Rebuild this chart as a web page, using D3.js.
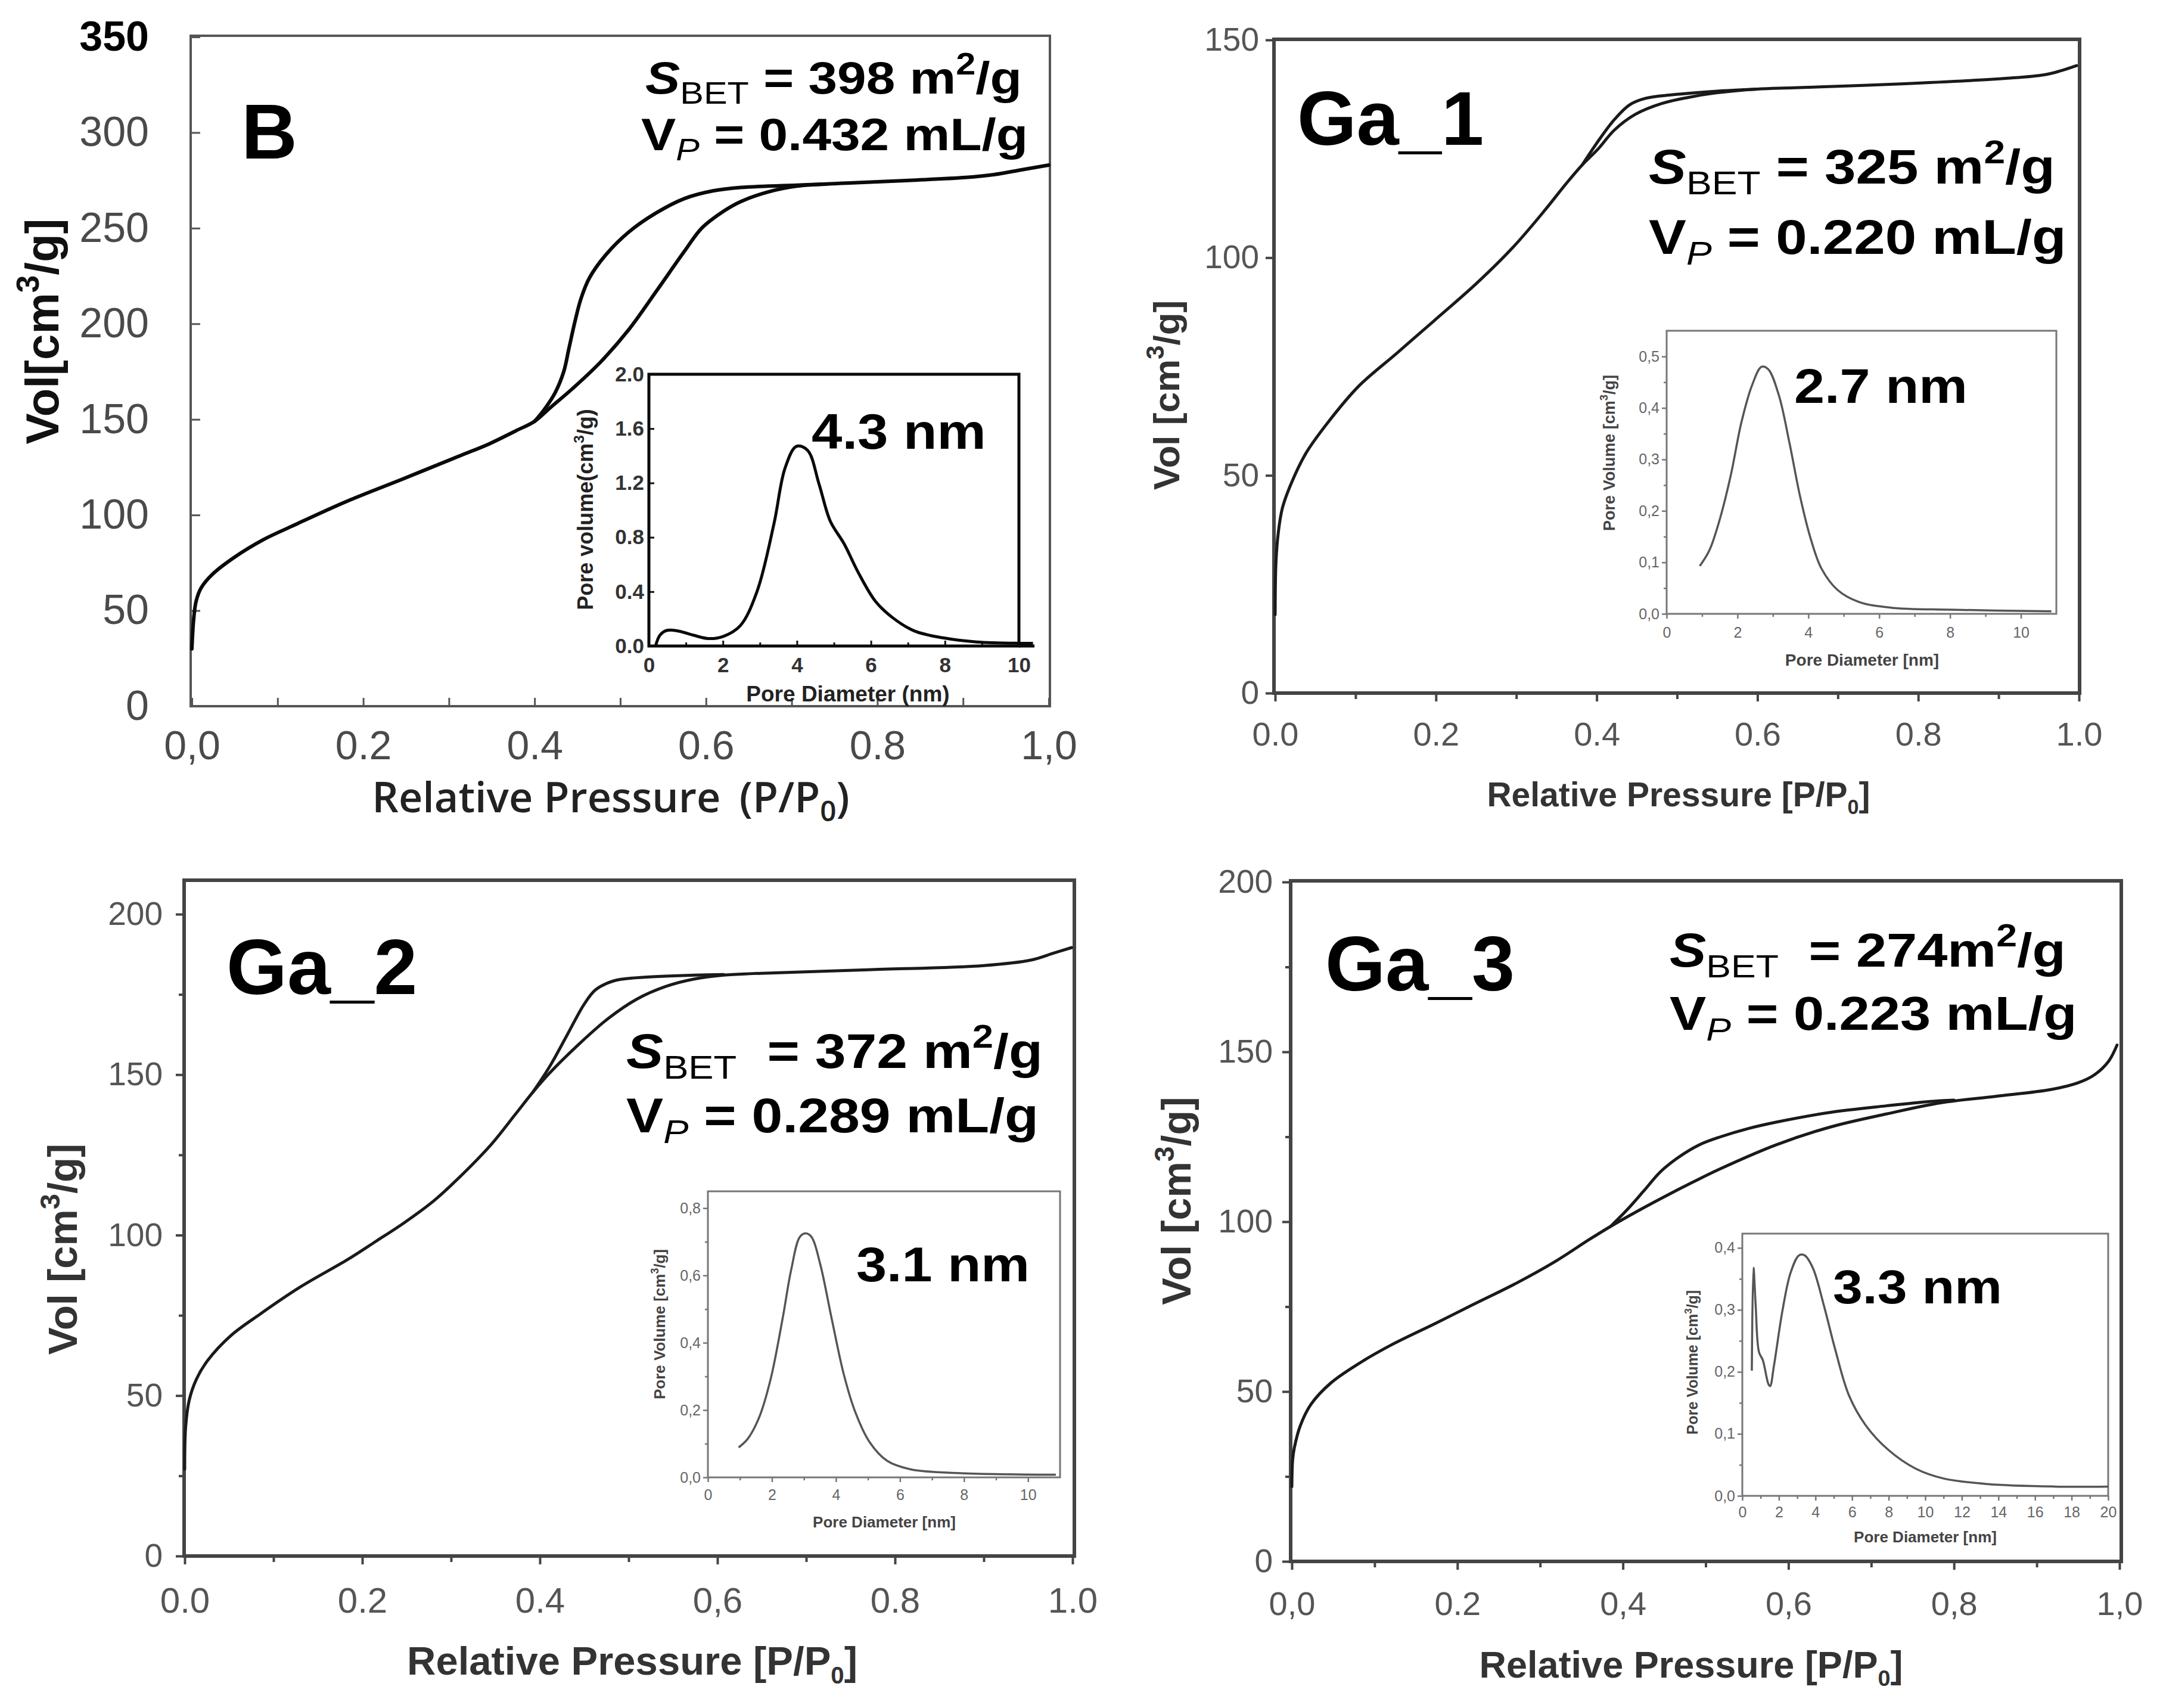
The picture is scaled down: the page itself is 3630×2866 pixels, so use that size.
<!DOCTYPE html>
<html><head><meta charset="utf-8">
<script src="https://cdn.jsdelivr.net/npm/d3@7"></script>
<style>html,body{margin:0;padding:0;background:#fff;}svg{display:block;}</style>
</head><body>
<svg id="chart" width="3630" height="2866"></svg>
<script>
// ================= DATA =================
// Panel B isotherm  [P/P0, Vol cm3/g]
const bShared = [[0,30],[0.002,45],[0.005,55],[0.011,62],[0.024,69],[0.05,78],[0.083,87],[0.116,94],[0.18,107],[0.247,119],[0.313,131],[0.346,137],[0.378,144],[0.40,149]];
const bAds = [[0.418,156],[0.444,166],[0.477,180],[0.51,197],[0.542,217],[0.575,238],[0.595,250],[0.621,259],[0.641,264],[0.673,269],[0.706,272],[0.772,273.7],[0.837,275],[0.903,276.5],[0.936,278],[0.968,280.5],[1.0,283]];
const bDes = [[0.40,149],[0.411,155],[0.424,164],[0.434,175],[0.44,187],[0.447,201],[0.454,213],[0.464,224],[0.483,236],[0.51,248],[0.542,258],[0.575,265.5],[0.608,269.5],[0.641,271.3],[0.706,272.5],[0.74,273]];
const bPsd = [[0.18,0],[0.3,0.08],[0.49,0.115],[0.8,0.11],[1.2,0.08],[1.6,0.055],[2.0,0.07],[2.47,0.15],[2.92,0.40],[3.38,0.90],[3.68,1.31],[3.99,1.47],[4.29,1.44],[4.6,1.19],[4.9,0.92],[5.28,0.75],[5.66,0.54],[6.12,0.33],[6.58,0.21],[7.18,0.11],[7.95,0.06],[8.86,0.03],[10,0.02],[10.38,0.02]];

// Ga_1
const g1Shared = [[0,18],[0.001,30],[0.004,37],[0.009,42.5],[0.0185,47.5],[0.038,55],[0.065,62],[0.104,70.5],[0.151,78],[0.197,85.4],[0.25,94],[0.296,102.4],[0.336,111],[0.362,117],[0.382,121.3]];
const g1Ads = [[0.402,125],[0.422,129.3],[0.448,132.9],[0.481,135.4],[0.514,136.8],[0.547,137.8],[0.6,138.7],[0.646,139],[0.779,139.9],[0.911,141.2],[0.957,142],[0.977,142.9],[0.997,144.1]];
const g1Des = [[0.382,121.3],[0.402,126.8],[0.422,131.7],[0.441,135.1],[0.461,136.6],[0.494,137.4],[0.547,138.2],[0.6,138.7]];
const g1Psd = [[0.935,0.093],[1.21,0.124],[1.51,0.186],[1.81,0.269],[2.11,0.372],[2.41,0.444],[2.68,0.48],[2.87,0.475],[3.17,0.424],[3.47,0.331],[3.77,0.227],[4.07,0.145],[4.37,0.088],[4.83,0.046],[5.43,0.023],[6.33,0.012],[8,0.008],[10.86,0.005]];

// Ga_2
const g2Shared = [[0,27],[0.001,40],[0.005,48.5],[0.013,55],[0.026,61],[0.052,68.7],[0.085,75.4],[0.13,83.8],[0.183,92.3],[0.215,98],[0.248,104],[0.281,110.8],[0.313,119],[0.346,128.5],[0.372,137.5],[0.392,144.5]];
const g2Ads = [[0.411,150.5],[0.444,159.5],[0.477,167.5],[0.509,173.5],[0.542,177.5],[0.574,179.8],[0.607,181],[0.64,181.5],[0.77,182.7],[0.9,184],[0.953,185.7],[0.979,187.9],[0.999,189.6]];
const g2Des = [[0.392,144.5],[0.411,152.5],[0.431,162.5],[0.45,172],[0.463,176.5],[0.483,179.2],[0.509,180.2],[0.574,181],[0.607,181.2]];
const g2Psd = [[0.96,0.089],[1.24,0.114],[1.6,0.178],[1.96,0.292],[2.33,0.47],[2.6,0.616],[2.87,0.714],[3.05,0.725],[3.24,0.714],[3.51,0.633],[3.87,0.47],[4.24,0.308],[4.6,0.195],[5.05,0.105],[5.6,0.049],[6.33,0.024],[7.78,0.013],[10.87,0.008]];

// Ga_3
const g3Shared = [[0,22],[0.001,30],[0.003,33.4],[0.01,39.8],[0.023,46.2],[0.047,52.5],[0.08,58.1],[0.12,63.7],[0.173,70],[0.219,75.6],[0.272,82],[0.319,88.4],[0.359,94.7],[0.385,98.6]];
const g3Ads = [[0.419,103.3],[0.452,107.6],[0.485,111.7],[0.518,115.6],[0.585,122.6],[0.651,127.9],[0.718,131.7],[0.784,135],[0.85,136.9],[0.917,138.9],[0.95,140.9],[0.97,143.3],[0.987,147.3],[0.997,152]];
const g3Des = [[0.385,98.6],[0.405,103.5],[0.425,109],[0.445,114.6],[0.465,118.6],[0.492,122.6],[0.518,125],[0.551,127.4],[0.585,129.3],[0.651,132.2],[0.718,134.1],[0.771,135.4],[0.8,135.8]];
const g3Psd = [[0.52,0.202],[0.61,0.368],[0.73,0.307],[0.91,0.232],[1.12,0.219],[1.43,0.18],[1.52,0.177],[1.73,0.21],[2.19,0.298],[2.64,0.36],[3.1,0.388],[3.4,0.388],[3.85,0.368],[4.46,0.307],[5.07,0.237],[5.83,0.162],[6.74,0.114],[7.95,0.075],[9.47,0.044],[11,0.028],[13.4,0.019],[17.05,0.015],[20,0.015]];

// Tick values / labels
const isoXVals = [0,0.2,0.4,0.6,0.8,1.0];
const isoXMinor = [0.1,0.3,0.5,0.7,0.9];
const bXLabels = ["0,0","0.2","0.4","0.6","0.8","1,0"];
const g1XLabels = ["0.0","0.2","0.4","0.6","0.8","1.0"];
const g2XLabels = ["0.0","0.2","0.4","0,6","0.8","1.0"];
const g3XLabels = ["0,0","0.2","0,4","0,6","0,8","1,0"];
const bYVals = [0,50,100,150,200,250,300,350];
const bYLabels = ["0","50","100","150","200","250","300","350"];
const g1YVals = [0,50,100,150];
const g1YLabels = ["0","50","100","150"];
const g23YVals = [0,50,100,150,200];
const g23YLabels = ["0","50","100","150","200"];
const g23YMinor = [25,75,125,175];

const bPsdXVals = [0,2,4,6,8,10];
const bPsdXLabels = ["0","2","4","6","8","10"];
const bPsdYVals = [0,0.4,0.8,1.2,1.6,2.0];
const bPsdYLabels = ["0.0","0.4","0.8","1.2","1.6","2.0"];
const psdXVals11 = [0,2,4,6,8,10];
const psdXLabels11 = ["0","2","4","6","8","10"];
const psdXMinor11 = [1,3,5,7,9];
const g1PsdYVals = [0,0.1,0.2,0.3,0.4,0.5];
const g1PsdYLabels = ["0,0","0,1","0,2","0,3","0,4","0,5"];
const g1PsdYMinor = [0.05,0.15,0.25,0.35,0.45];
const g2PsdYVals = [0,0.2,0.4,0.6,0.8];
const g2PsdYLabels = ["0,0","0,2","0,4","0,6","0,8"];
const g2PsdYMinor = [0.1,0.3,0.5,0.7];
const g3PsdXVals = [0,2,4,6,8,10,12,14,16,18,20];
const g3PsdXLabels = ["0","2","4","6","8","10","12","14","16","18","20"];
const g3PsdXMinor = [1,3,5,7,9,11,13,15,17,19];
const g3PsdYVals = [0,0.1,0.2,0.3,0.4];
const g3PsdYLabels = ["0,0","0,1","0,2","0,3","0,4"];
const g3PsdYMinor = [0.05,0.15,0.25,0.35];

// ================= DRAWING =================
const FONT = "'Liberation Sans', Arial, Helvetica, sans-serif";
const OPEN = "'Open Sans', 'Liberation Sans', sans-serif";
const svg = d3.select('#chart');
svg.append('rect').attr('width',3630).attr('height',2866).attr('fill','#fff');
const CURVE = d3.curveCatmullRom.alpha(0.5);

function rich(parent, o, segs) {
  let tr = `translate(${o.x},${o.y})`;
  if (o.rot) tr += ` rotate(${o.rot})`;
  if (o.sx) tr += ` scale(${o.sx},1)`;
  const g = parent.append('g').attr('transform', tr);
  const fs = o.fs;
  // rotated titles: x given is the visual centre of the glyphs -> shift baseline
  const t = g.append('text').attr('x',0).attr('y', o.rot ? 0.36*fs : 0)
    .attr('font-size', fs).attr('font-family', o.family || FONT)
    .attr('font-weight', o.weight || 'bold').attr('fill', o.fill || '#000')
    .attr('text-anchor', o.anchor || 'start');
  let cur = 0;
  segs.forEach(s => {
    const off = s.sub ? 0.22*fs : (s.sup ? -0.42*fs : 0);
    const ts = t.append('tspan').text(s.t);
    if (off - cur !== 0) ts.attr('dy', off - cur);
    cur = off;
    if (s.sub || s.sup) ts.attr('font-size', fs*(s.scale || 0.68));
    if (s.it) ts.attr('font-style','italic');
    if (s.w) ts.attr('font-weight', s.w);
    if (s.dx) ts.attr('dx', s.dx*fs);
  });
  return t;
}

function axisB(g, scale, pos, vals, labels, minor, st) {
  const inner = st.inward ? -st.len : st.len;
  const spacing = st.baseline - pos - 0.71*st.fs;
  const pad = spacing - Math.max(inner,0);
  const ax = d3.axisBottom(scale).tickValues(vals)
    .tickFormat(d => labels[vals.indexOf(d)]).tickSizeInner(inner).tickSizeOuter(0).tickPadding(pad);
  const ga = g.append('g').attr('transform',`translate(0,${pos})`).call(ax);
  ga.select('.domain').remove();
  ga.attr('font-size', st.fs).attr('font-family', st.family || FONT).attr('font-weight', st.weight || 'normal');
  ga.selectAll('text').attr('fill', st.color);
  ga.selectAll('line').attr('stroke', st.tickColor).attr('stroke-width', st.tickW);
  if (minor) {
    const mi = st.inward ? -st.minorLen : st.minorLen;
    const gm = g.append('g').attr('transform',`translate(0,${pos})`)
      .call(d3.axisBottom(scale).tickValues(minor).tickFormat(()=>'').tickSizeInner(mi).tickSizeOuter(0));
    gm.select('.domain').remove();
    gm.selectAll('line').attr('stroke', st.tickColor).attr('stroke-width', st.tickW);
  }
  return ga;
}
function axisL(g, scale, pos, vals, labels, minor, st) {
  const inner = st.inward ? -st.len : st.len;
  const pad = st.spacing - Math.max(inner,0);
  const ax = d3.axisLeft(scale).tickValues(vals)
    .tickFormat(d => labels[vals.indexOf(d)]).tickSizeInner(inner).tickSizeOuter(0).tickPadding(pad);
  const ga = g.append('g').attr('transform',`translate(${pos},0)`).call(ax);
  ga.select('.domain').remove();
  ga.attr('font-size', st.fs).attr('font-family', st.family || FONT).attr('font-weight', st.weight || 'normal');
  ga.selectAll('text').attr('fill', st.color);
  ga.selectAll('line').attr('stroke', st.tickColor).attr('stroke-width', st.tickW);
  if (minor) {
    const mi = st.inward ? -st.minorLen : st.minorLen;
    const gm = g.append('g').attr('transform',`translate(${pos},0)`)
      .call(d3.axisLeft(scale).tickValues(minor).tickFormat(()=>'').tickSizeInner(mi).tickSizeOuter(0));
    gm.select('.domain').remove();
    gm.selectAll('line').attr('stroke', st.tickColor).attr('stroke-width', st.tickW);
  }
  return ga;
}

function frameRect(g, F, color, w) {
  g.append('rect').attr('x',F.l).attr('y',F.t).attr('width',F.r-F.l).attr('height',F.b-F.t)
    .attr('fill','none').attr('stroke',color).attr('stroke-width',w);
}

function drawIso(P) {
  const g = svg.append('g');
  const x = d3.scaleLinear().domain([0,1]).range(P.xr);
  const y = d3.scaleLinear().domain(P.yDomain).range(P.yr);
  const F = P.frame;
  axisB(g, x, F.b, isoXVals, P.xLabels, isoXMinor, P.xAx);
  const ya = axisL(g, y, F.l, P.yVals, P.yLabels, P.yMinor, P.yAx);
  if (P.boldTop) {
    ya.selectAll('.tick').filter(d => d === P.yVals[P.yVals.length-1]).select('text')
      .attr('font-weight','bold').attr('fill','#000');
  }
  frameRect(g, F, P.frameColor, P.frameW);
  const line = d3.line().x(d=>x(d[0])).y(d=>y(d[1])).curve(CURVE);
  g.append('path').datum(P.shared.concat(P.ads)).attr('d',line)
    .attr('fill','none').attr('stroke',P.curveColor).attr('stroke-width',P.curveW).attr('stroke-linejoin','round').attr('stroke-linecap','round');
  g.append('path').datum(P.des).attr('d',line)
    .attr('fill','none').attr('stroke',P.curveColor).attr('stroke-width',P.curveW).attr('stroke-linejoin','round').attr('stroke-linecap','round');
  // inset
  const I = P.inset;
  const ix = d3.scaleLinear().domain(I.xDomain).range([I.frame.l, I.frame.r]);
  const iy = d3.scaleLinear().domain(I.yDomain).range([I.frame.b, I.frame.t]);
  g.append('rect').attr('x',I.frame.l).attr('y',I.frame.t).attr('width',I.frame.r-I.frame.l).attr('height',I.frame.b-I.frame.t).attr('fill','#fff');
  axisB(g, ix, I.frame.b, I.xVals, I.xLabels, I.xMinor, I.xAx);
  axisL(g, iy, I.frame.l, I.yVals, I.yLabels, I.yMinor, I.yAx);
  frameRect(g, I.frame, I.frameColor, I.frameW);
  if (I.extend) {
    g.append('line').attr('x1', ix(I.xDomain[1])).attr('x2', ix(I.extend)).attr('y1', I.frame.b).attr('y2', I.frame.b)
      .attr('stroke', I.frameColor).attr('stroke-width', I.frameW);
  }
  const iline = d3.line().x(d=>ix(d[0])).y(d=>iy(d[1])).curve(CURVE);
  g.append('path').datum(I.data).attr('d',iline).attr('fill','none')
    .attr('stroke',I.curveColor).attr('stroke-width',I.curveW).attr('stroke-linejoin','round');
  // texts
  P.texts.forEach(t => rich(g, t.o, t.segs));
}

const sub = (t, extra) => Object.assign({t, sub:true}, extra||{});
const sup = (t, extra) => Object.assign({t, sup:true}, extra||{});

// ---------- Panel B ----------
drawIso({
  frame:{l:320,r:1762,t:60,b:1185}, xr:[322,1760], yDomain:[0,350], yr:[1185,62],
  xLabels:bXLabels, yVals:bYVals, yLabels:bYLabels, yMinor:null, boldTop:true,
  xAx:{inward:true,len:14,minorLen:14,fs:68,color:'#4a4a4a',baseline:1274,tickColor:'#555',tickW:3},
  yAx:{inward:true,len:16,minorLen:10,fs:70,color:'#4a4a4a',spacing:70,tickColor:'#555',tickW:3},
  frameColor:'#555', frameW:4, curveColor:'#0a0a0a', curveW:6,
  shared:bShared, ads:bAds, des:bDes,
  inset:{frame:{l:1089,r:1710,t:628,b:1084}, xDomain:[0,10], yDomain:[0,2], extend:10.42,
    xVals:bPsdXVals, xLabels:bPsdXLabels, xMinor:[1,3,5,7,9], yVals:bPsdYVals, yLabels:bPsdYLabels, yMinor:null,
    xAx:{inward:true,len:9,minorLen:6,fs:35,color:'#333',baseline:1128,tickColor:'#111',tickW:3,weight:'bold'},
    yAx:{inward:true,len:9,minorLen:6,fs:35,color:'#333',spacing:8,tickColor:'#111',tickW:3,weight:'bold'},
    frameColor:'#0a0a0a', frameW:5, curveColor:'#0a0a0a', curveW:5, data:bPsd},
  texts:[
    {o:{x:405,y:266,fs:130},segs:[{t:'B'}]},
    {o:{x:1083,y:157,fs:76,sx:1.15},segs:[{t:'S',it:true},sub('BET',{w:'normal'}),{t:' = 398 m'},sup('2'),{t:'/g'}]},
    {o:{x:1076,y:252,fs:76,sx:1.15},segs:[{t:'V'},sub('P',{it:true,w:'normal'}),{t:' = 0.432 mL/g'}]},
    {o:{x:1362,y:753,fs:84,sx:1.1},segs:[{t:'4.3 nm'}]},
    {o:{x:70,y:556,fs:78,rot:-90,anchor:'middle',fill:'#111'},segs:[{t:'Vol[cm'},sup('3'),{t:'/g]'}]},
    {o:{x:1025,y:1363,fs:70,anchor:'middle',family:OPEN,weight:'600',fill:'#222'},segs:[{t:'Relative Pressure'},{t:'(P/P',dx:0.45},sub('0'),{t:')'}]},
    {o:{x:982,y:855,fs:36,rot:-90,anchor:'middle',fill:'#222'},segs:[{t:'Pore volume(cm'},sup('3'),{t:'/g)'}]},
    {o:{x:1423,y:1177,fs:37,anchor:'middle',fill:'#222'},segs:[{t:'Pore Diameter (nm)'}]}
  ]
});

// ---------- Ga_1 ----------
const gaX = (baseline, fs) => ({inward:false,len:14,minorLen:10,fs,color:'#555',baseline,tickColor:'#444',tickW:4});
const gaY = (spacing, fs) => ({inward:false,len:14,minorLen:9,fs,color:'#555',spacing,tickColor:'#444',tickW:4});
const inX = (baseline) => ({inward:false,len:8,minorLen:5,fs:25,color:'#666',baseline,tickColor:'#777',tickW:2.5});
const inY = () => ({inward:false,len:8,minorLen:5,fs:25,color:'#666',spacing:12,tickColor:'#777',tickW:2.5});

drawIso({
  frame:{l:2138,r:3490,t:66,b:1163}, xr:[2140,3489], yDomain:[0,150], yr:[1163,67],
  xLabels:g1XLabels, yVals:g1YVals, yLabels:g1YLabels, yMinor:null,
  xAx:gaX(1251,56), yAx:gaY(25,55),
  frameColor:'#444', frameW:6, curveColor:'#1a1a1a', curveW:5,
  shared:g1Shared, ads:g1Ads, des:g1Des,
  inset:{frame:{l:2797,r:3451,t:555,b:1030}, xDomain:[0,11], yDomain:[0,0.55],
    xVals:psdXVals11, xLabels:psdXLabels11, xMinor:psdXMinor11, yVals:g1PsdYVals, yLabels:g1PsdYLabels, yMinor:g1PsdYMinor,
    xAx:inX(1070), yAx:inY(), frameColor:'#777', frameW:3, curveColor:'#555', curveW:3.5, data:g1Psd},
  texts:[
    {o:{x:2177,y:243,fs:128},segs:[{t:'Ga_1'}]},
    {o:{x:2767,y:308,fs:82,sx:1.15},segs:[{t:'S',it:true},sub('BET',{w:'normal'}),{t:' = 325 m'},sup('2'),{t:'/g'}]},
    {o:{x:2767,y:426,fs:82,sx:1.15},segs:[{t:'V'},sub('P',{it:true,w:'normal'}),{t:' = 0.220 mL/g'}]},
    {o:{x:3011,y:676,fs:82,sx:1.12},segs:[{t:'2.7 nm'}]},
    {o:{x:1957,y:663,fs:62,rot:-90,anchor:'middle',fill:'#333'},segs:[{t:'Vol [cm'},sup('3'),{t:'/g]'}]},
    {o:{x:2817,y:1353,fs:57,anchor:'middle',fill:'#333'},segs:[{t:'Relative Pressure [P/P'},sub('0',{scale:0.6}),{t:']'}]},
    {o:{x:2700,y:760,fs:27,rot:-90,anchor:'middle',fill:'#444'},segs:[{t:'Pore Volume [cm'},sup('3'),{t:'/g]'}]},
    {o:{x:3125,y:1117,fs:28,anchor:'middle',fill:'#444'},segs:[{t:'Pore Diameter [nm]'}]}
  ]
});

// ---------- Ga_2 ----------
drawIso({
  frame:{l:309,r:1803,t:1477,b:2611}, xr:[310,1800], yDomain:[0,200], yr:[2611,1534],
  xLabels:g2XLabels, yVals:g23YVals, yLabels:g23YLabels, yMinor:g23YMinor,
  xAx:gaX(2706,60), yAx:gaY(36,55),
  frameColor:'#444', frameW:6, curveColor:'#1a1a1a', curveW:5,
  shared:g2Shared, ads:g2Ads, des:g2Des,
  inset:{frame:{l:1188,r:1779,t:1999,b:2479}, xDomain:[0,11], yDomain:[0,0.85],
    xVals:psdXVals11, xLabels:psdXLabels11, xMinor:psdXMinor11, yVals:g2PsdYVals, yLabels:g2PsdYLabels, yMinor:g2PsdYMinor,
    xAx:inX(2517), yAx:inY(), frameColor:'#777', frameW:3, curveColor:'#555', curveW:3.5, data:g2Psd},
  texts:[
    {o:{x:380,y:1668,fs:131},segs:[{t:'Ga_2'}]},
    {o:{x:1051,y:1792,fs:81,sx:1.15},segs:[{t:'S',it:true},sub('BET',{w:'normal'}),{t:'= 372 m',dx:0.55},sup('2'),{t:'/g'}]},
    {o:{x:1051,y:1900,fs:81,sx:1.15},segs:[{t:'V'},sub('P',{it:true,w:'normal'}),{t:' = 0.289 mL/g'}]},
    {o:{x:1437,y:2150,fs:82,sx:1.12},segs:[{t:'3.1 nm'}]},
    {o:{x:104,y:2096,fs:69,rot:-90,anchor:'middle',fill:'#333'},segs:[{t:'Vol [cm'},sup('3'),{t:'/g]'}]},
    {o:{x:1061,y:2810,fs:67,anchor:'middle',fill:'#333'},segs:[{t:'Relative Pressure [P/P'},sub('0',{scale:0.6}),{t:']'}]},
    {o:{x:1107,y:2222,fs:26,rot:-90,anchor:'middle',fill:'#444'},segs:[{t:'Pore Volume [cm'},sup('3'),{t:'/g]'}]},
    {o:{x:1484,y:2563,fs:26,anchor:'middle',fill:'#444'},segs:[{t:'Pore Diameter [nm]'}]}
  ]
});

// ---------- Ga_3 ----------
drawIso({
  frame:{l:2166,r:3560,t:1478,b:2620}, xr:[2168,3557], yDomain:[0,200], yr:[2620,1480],
  xLabels:g3XLabels, yVals:g23YVals, yLabels:g23YLabels, yMinor:g23YMinor,
  xAx:gaX(2710,56), yAx:gaY(30,55),
  frameColor:'#444', frameW:6, curveColor:'#1a1a1a', curveW:5,
  shared:g3Shared, ads:g3Ads, des:g3Des,
  inset:{frame:{l:2924,r:3538,t:2070,b:2510}, xDomain:[0,20], yDomain:[0,0.423],
    xVals:g3PsdXVals, xLabels:g3PsdXLabels, xMinor:g3PsdXMinor, yVals:g3PsdYVals, yLabels:g3PsdYLabels, yMinor:g3PsdYMinor,
    xAx:inX(2546), yAx:inY(), frameColor:'#777', frameW:3, curveColor:'#555', curveW:3.5, data:g3Psd},
  texts:[
    {o:{x:2224,y:1662,fs:130},segs:[{t:'Ga_3'}]},
    {o:{x:2802,y:1622,fs:80,sx:1.15},segs:[{t:'S',it:true},sub('BET',{w:'normal'}),{t:'= 274m',dx:0.55},sup('2'),{t:'/g'}]},
    {o:{x:2802,y:1728,fs:80,sx:1.15},segs:[{t:'V'},sub('P',{it:true,w:'normal'}),{t:' = 0.223 mL/g'}]},
    {o:{x:3076,y:2187,fs:80,sx:1.12},segs:[{t:'3.3 nm'}]},
    {o:{x:1974,y:2015,fs:68,rot:-90,anchor:'middle',fill:'#333'},segs:[{t:'Vol [cm'},sup('3'),{t:'/g]'}]},
    {o:{x:2838,y:2815,fs:63,anchor:'middle',fill:'#333'},segs:[{t:'Relative Pressure [P/P'},sub('0',{scale:0.6}),{t:']'}]},
    {o:{x:2840,y:2286,fs:25,rot:-90,anchor:'middle',fill:'#444'},segs:[{t:'Pore Volume [cm'},sup('3'),{t:'/g]'}]},
    {o:{x:3231,y:2588,fs:26,anchor:'middle',fill:'#444'},segs:[{t:'Pore Diameter [nm]'}]}
  ]
});
</script>
</body></html>
